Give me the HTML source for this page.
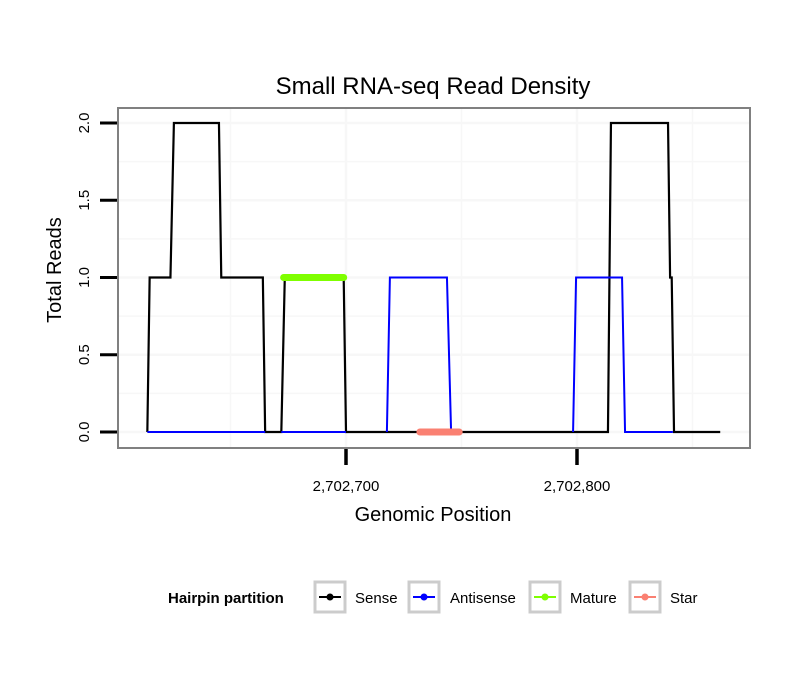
<!DOCTYPE html>
<html><head><meta charset="utf-8"><style>
body{margin:0;background:#fff;}
svg text{font-family:"Liberation Sans",sans-serif;}
</style></head><body>
<svg id="chart" width="810" height="690" xmlns="http://www.w3.org/2000/svg">
<rect width="810" height="690" fill="#fff"/>
<text x="433" y="94" font-size="24" text-anchor="middle">Small RNA-seq Read Density</text>
<g id="grid"></g>
<g id="series"></g>
<rect x="118" y="108" width="632" height="340" fill="none" stroke="#808080" stroke-width="2"/>
<g id="axes"></g>
<text x="433" y="521" font-size="20" text-anchor="middle">Genomic Position</text>
<text transform="translate(61,270) rotate(-90)" font-size="20" text-anchor="middle">Total Reads</text>
<g>
<text x="168" y="603" font-size="15" font-weight="bold">Hairpin partition</text>
<g><rect x="315" y="582" width="30" height="30" fill="#fff" stroke="#ccc" stroke-width="3"/><line x1="319" y1="597" x2="341" y2="597" stroke="#000" stroke-width="2"/><circle cx="330" cy="597" r="3.5" fill="#000"/><text x="355" y="603" font-size="15">Sense</text></g>
<g><rect x="409" y="582" width="30" height="30" fill="#fff" stroke="#ccc" stroke-width="3"/><line x1="413" y1="597" x2="435" y2="597" stroke="#00f" stroke-width="2"/><circle cx="424" cy="597" r="3.5" fill="#00f"/><text x="450" y="603" font-size="15">Antisense</text></g>
<g><rect x="530" y="582" width="30" height="30" fill="#fff" stroke="#ccc" stroke-width="3"/><line x1="534" y1="597" x2="556" y2="597" stroke="#7fff00" stroke-width="2"/><circle cx="545" cy="597" r="3.5" fill="#7fff00"/><text x="570" y="603" font-size="15">Mature</text></g>
<g><rect x="630" y="582" width="30" height="30" fill="#fff" stroke="#ccc" stroke-width="3"/><line x1="634" y1="597" x2="656" y2="597" stroke="#fa8072" stroke-width="2"/><circle cx="645" cy="597" r="3.5" fill="#fa8072"/><text x="670" y="603" font-size="15">Star</text></g>
</g>
</svg>
<script>
// positions are offsets in bp from 2,702,700
const senseX = [-86,-85,-76,-74.5,-55,-54,-36,-35,-28,-26.5,-1,0,113.4,114.7,139.4,140.3,141,142,162];
const senseY = [0,1,1,2,2,1,1,0,0,1,1,0,0,2,2,1,1,0,0];
const antiX = [-86,-35,null,-28,0,null,17.7,19,43.7,45.5,null,98.3,99.6,119.5,120.8,141.5];
const antiY = [0,0,null,0,0,null,0,1,1,0,null,0,1,1,0,0];
const matureX = [-27,-1]; const matureY = [1,1];
const starX = [32,49]; const starY = [0,0];
const yTicks = [0,0.5,1,1.5,2];
const yTickLabels = ["0.0","0.5","1.0","1.5","2.0"];
const xTicks = [0,100];
const xTickLabels = ["2,702,700","2,702,800"];
const xGrid = [-50,0,50,100,150];
const yGrid = [0,0.25,0.5,0.75,1,1.25,1.5,1.75,2];

const NS="http://www.w3.org/2000/svg";
const sx = b => 346 + b*2.31;
const sy = v => 432 - v*154.5;
function mk(tag, attrs, parent){const e=document.createElementNS(NS,tag);for(const k in attrs)e.setAttribute(k,attrs[k]);parent.appendChild(e);return e;}
const grid=document.getElementById('grid'), series=document.getElementById('series'), axes=document.getElementById('axes');
xGrid.forEach(b=>{const l=mk('line',{x1:sx(b),x2:sx(b),y1:109,y2:447,stroke:'#f7f7f7','stroke-width':b%100===0?2.5:1.5},grid);

});
yGrid.forEach(v=>{const l=mk('line',{x1:119,x2:749,y1:sy(v),y2:sy(v),stroke:'#f7f7f7','stroke-width':v%0.5===0?2.5:1.5},grid);

});
function pathD(xs,ys){let d='',pen=false;for(let i=0;i<xs.length;i++){if(xs[i]===null){pen=false;continue;}d+=(pen?'L':'M')+sx(xs[i])+','+sy(ys[i]);pen=true;}return d;}
const ps=mk('path',{d:pathD(senseX,senseY),fill:'none',stroke:'#000','stroke-width':2.2},series);


const pa=mk('path',{d:pathD(antiX,antiY),fill:'none',stroke:'#00f','stroke-width':2},series);


const pm=mk('path',{d:pathD(matureX,matureY),fill:'none',stroke:'#7fff00','stroke-width':7,'stroke-linecap':'round'},series);


const pst=mk('path',{d:pathD(starX,starY),fill:'none',stroke:'#fa8072','stroke-width':7,'stroke-linecap':'round'},series);


yTicks.forEach((v,i)=>{const t=mk('line',{x1:100,x2:117,y1:sy(v),y2:sy(v),stroke:'#000','stroke-width':3},axes);


const tx=mk('text',{transform:`translate(${89},${sy(v)}) rotate(-90)`,'font-size':15,'text-anchor':'middle'},axes);


tx.textContent=yTickLabels[i];});
xTicks.forEach((b,i)=>{const t=mk('line',{x1:sx(b),x2:sx(b),y1:449,y2:465,stroke:'#000','stroke-width':3.5},axes);


const tx=mk('text',{x:sx(b),y:491,'font-size':15,'text-anchor':'middle'},axes);


tx.textContent=xTickLabels[i];});
</script>
</body></html>
